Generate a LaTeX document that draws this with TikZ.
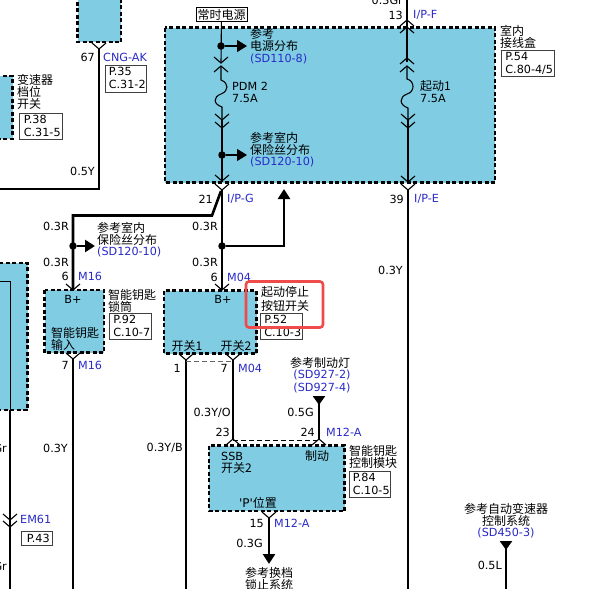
\documentclass[tikz,border=0pt]{standalone}
\usepackage{fontspec}
\setmainfont{Noto Sans CJK SC}
\newfontfamily\latf{DejaVu Sans}
\usetikzlibrary{arrows.meta}
\definecolor{boxc}{HTML}{7FCCE3}
\definecolor{linkc}{HTML}{2A2AC8}
\definecolor{redc}{HTML}{EE4B4B}
\newcommand{\tworow}[2]{\hspace{2.5pt}\raisebox{-4pt}[0pt][0pt]{\begin{tabular}{@{}l@{}}#1\\#2\end{tabular}}}
\tikzset{
 x=1pt,y=-1pt,
 module/.style={draw=black,fill=boxc,line width=2.2pt,dash pattern=on 4pt off 2.5pt},
 wire/.style={draw=black,line width=2.6pt},
 thinwire/.style={draw=black,line width=1.1pt},
 cjk/.style={inner sep=0pt,anchor=west,font=\fontsize{12}{12}\selectfont},
 cjkc/.style={cjk,anchor=center},
 lat/.style={inner sep=0pt,anchor=west,font=\latf\fontsize{11.2}{12}\selectfont},
 latr/.style={lat,anchor=east},
 latc/.style={lat,anchor=center},
 lnk/.style={lat,text=linkc},
 lnkc/.style={latc,text=linkc},
 refbox/.style={draw=black!75,line width=1pt,fill=white,inner sep=0pt,anchor=north west,align=left,font=\latf\fontsize{11.2}{12.8}\selectfont},
 dotn/.style={circle,fill=black,inner sep=0pt,minimum size=7.5pt},
 tip/.style={-{Triangle[length=10pt,width=12pt]}},
 revtip/.style={{Triangle[reversed,length=9pt,width=12pt]}-},
}
\newcommand{\conn}[2]{\draw[black,line width=1.1pt] (#1-7,#2-6) -- (#1,#2) -- (#1+7,#2-6);}
\newcommand{\connu}[2]{\draw[black,line width=1.1pt] (#1-7,#2+6) -- (#1,#2) -- (#1+7,#2+6);}
\begin{document}
\begin{tikzpicture}
\useasboundingbox (0,0) rectangle (600,589);
\fill[white] (0,0) rectangle (600,589);
% modules
\path[module] (77.5,-5) rectangle (121,42);
\path[module] (-5,76) rectangle (12.5,139);
\path[module] (165,27.5) rectangle (495,182.5);
\path[module] (-5,263) rectangle (27.5,410);
\path[module] (44.5,290) rectangle (104,352.5);
\path[module] (164,290.5) rectangle (256.5,353.5);
\path[module] (209,445.5) rectangle (344.5,511);
% fuse PDM 2
\node[draw=black,line width=.8pt,inner sep=1.5pt,fill=white,font=\fontsize{12}{12}\selectfont] (always) at (221.5,14.5) {常时电源};
\node[dotn] (d1) at (221,46) {};
\node[dotn] (d2) at (222,155) {};
\coordinate (d1e) at (247,46); \coordinate (d2e) at (247,155);
\draw[thinwire] (always) -- (221,63);
\conn{221}{63} \connu{221}{66}
\draw[thinwire] (221,66) -- (221,80) .. controls (229,83) and (229,91) .. (221,94) .. controls (213,97) and (213,104) .. (222,107) -- (222,120);
\conn{222}{120} \conn{222}{128}
\draw[thinwire] (222,120) -- (222,182);
\conn{222}{181}
\draw[thinwire,tip] (d1) -- (d1e);
\draw[thinwire,tip] (d2) -- (d2e);
% I/P-G wires
\node[dotn] (d3) at (222,246) {};
\node[dotn] (d4) at (73,246) {};
\coordinate (c1) at (222,190);
\coordinate (m04) at (222,290); \coordinate (m16) at (73,290);
\coordinate (tipup) at (284,189);
\coordinate (d4e) at (95,246);
\draw[wire] (c1) -- (m04);
\draw[wire] (221,191) -- (212,215.5) -- (73,215.5) -- (m16);
\draw[wire,tip] (d3) -- (284,246) -- (tipup);
\draw[wire,tip] (d4) -- (d4e);
\conn{222}{190}
\conn{73}{290}
\conn{222}{290}
% connector 67
\coordinate (c67) at (99,49);
\coordinate (c67e) at (-5,189);
\draw[wire] (c67) -- (99,189) -- (c67e);
\conn{99}{49}
% right wire
\coordinate (t13) at (407,-5); \coordinate (b39) at (408,594);
\draw[wire] (t13) -- (407,22);
\draw[thinwire] (407,22) -- (407,62);
\connu{407}{20} \connu{407}{27} \connu{407}{58} \connu{407}{66}
\draw[thinwire] (407,66) -- (407,79) .. controls (415,81) and (415,92) .. (407,94) .. controls (399,97) and (399,105) .. (408,108) -- (408,120);
\conn{408}{120} \conn{408}{128}
\draw[thinwire] (408,120) -- (408,182);
\conn{408}{182} \conn{408}{190}
\draw[wire] (b39) -- (408,189);
% left wire
\draw[black,line width=.8pt] (-2,281.5) -- (10,281.5) -- (10,410);
\draw[wire] (10,410) -- (10,594);
\conn{10}{520} \conn{10}{527}
% lower wires
\draw[wire] (73,359) -- (73,594);
\draw[wire] (186,360) -- (186,594);
\draw[wire] (233,360) -- (233,439);
\conn{73}{359}
\conn{186}{360}
\conn{233}{360}
\draw[black!60,line width=.9pt,dash pattern=on 5pt off 3pt] (186,361) -- (233,361);
\draw[black,line width=.9pt,dash pattern=on 5pt off 3pt] (233,440) -- (319,440);
\connu{233}{439}
\connu{319}{439}
\coordinate (bs) at (319,396);
\coordinate (bs2) at (319,440);
\draw[wire,revtip] (bs) -- (bs2);
\conn{269}{518}
\coordinate (es) at (269,564);
\coordinate (es2) at (269,518);
\draw[wire,tip] (es2) -- (es);
\coordinate (ds) at (506,541);
\coordinate (ds2) at (506,594);
\draw[wire,revtip] (ds) -- (ds2);
% labels
\node[latr] (l1) at (95,57) {67};
\node[lnk] (l2) at (103,57) {CNG-AK};
\node[refbox,minimum width=41pt,minimum height=27pt] (r35) at (105,64.5) {\tworow{P.35}{C.31-2}};
\node[cjk] (l3) at (17,80) {变速器};
\node[cjk] (l4) at (17,92) {档位};
\node[cjk] (l5) at (17,104) {开关};
\node[refbox,minimum width=43pt,minimum height=26pt] (r38) at (19,113) {\tworow{P.38}{C.31-5}};
\node[latr] (l6) at (95,171.5) {0.5Y};
\node[cjk] (l7) at (250,34) {参考};
\node[cjk] (l8) at (250,46) {电源分布};
\node[lnk] (l9) at (250,59) {(SD110-8)};
\node[lat] (l10) at (232,86) {PDM 2};
\node[lat] (l11) at (232,98) {7.5A};
\node[cjk] (l12) at (250,138) {参考室内};
\node[cjk] (l13) at (250,150) {保险丝分布};
\node[lnk] (l14) at (250,162) {(SD120-10)};
\node[latr] (l15) at (213,199) {21};
\node[lnk] (l16) at (227,199) {I/P-G};
\node[latr] (l17) at (69,226.5) {0.3R};
\node[latr] (l18) at (218,226.5) {0.3R};
\node[cjk] (l19) at (97,228) {参考室内};
\node[cjk] (l20) at (97,240) {保险丝分布};
\node[lnk] (l21) at (97,252) {(SD120-10)};
\node[latr] (l22) at (69,262) {0.3R};
\node[latr] (l23) at (218,262) {0.3R};
\node[latr] (l24) at (69,276.5) {6};
\node[lnk] (l25) at (78,276.5) {M16};
\node[latr] (l26) at (218,277) {6};
\node[lnk] (l27) at (227,277) {M04};
\node[latc] (l28) at (73,299.5) {B+};
\node[latc] (l29) at (223,299.5) {B+};
\node[cjk] (l30) at (108,295) {智能钥匙};
\node[cjk] (l31) at (108,307) {锁筒};
\node[refbox,minimum width=42pt,minimum height=26pt] (r92) at (109,313) {\tworow{P.92}{C.10-7}};
\node[cjk] (l32) at (51,333) {智能钥匙};
\node[cjk] (l33) at (51,345) {输入};
\node[latr] (l34) at (69,365) {7};
\node[lnk] (l35) at (78,365) {M16};
\node[cjk] (l36) at (261,292) {起动停止};
\node[cjk] (l37) at (261,306) {按钮开关};
\node[refbox,minimum width=42pt,minimum height=26pt] (r52) at (260,313) {\tworow{P.52}{C.10-3}};
\node[cjkc] (l38) at (187,346) {开关1};
\node[cjkc] (l39) at (236,346) {开关2};
\node[latr] (l40) at (181,368) {1};
\node[latr] (l41) at (228,368) {7};
\node[lnk] (l42) at (238,368) {M04};
\node[cjkc] (l43) at (320,363) {参考制动灯};
\node[lnkc] (l44) at (322,375) {(SD927-2)};
\node[lnkc] (l45) at (322,388) {(SD927-4)};
\node[latr] (l46) at (314,412.5) {0.5G};
\node[latr] (l47) at (231,412.5) {0.3Y/O};
\node[latr] (l48) at (230,432) {23};
\node[latr] (l49) at (315,432) {24};
\node[lnk] (l50) at (326,432) {M12-A};
\node[lat] (l51) at (221,456) {SSB};
\node[cjk] (l52) at (221,468) {开关2};
\node[cjkc] (l53) at (317,456) {制动};
\node[cjk] (l54) at (349,451) {智能钥匙};
\node[cjk] (l55) at (349,463) {控制模块};
\node[refbox,minimum width=41pt,minimum height=26pt] (r84) at (349,471) {\tworow{P.84}{C.10-5}};
\node[cjkc] (l56) at (258,503) {{\latf 'P'}位置};
\node[latr] (l57) at (264,523) {15};
\node[lnk] (l58) at (274,523) {M12-A};
\node[latr] (l59) at (263,543) {0.3G};
\node[cjkc] (l60) at (269,573) {参考换档};
\node[cjkc] (l61) at (269,585) {锁止系统};
\node[latr] (l62) at (68,448) {0.3Y};
\node[latr] (l63) at (183,448) {0.3Y/B};
\node[latr] (l64) at (7,448) {Gr};
\node[latr] (l65) at (7,566) {Gr};
\node[latr] (l66) at (403,270) {0.3Y};
\node[lnk] (l67) at (20,519.5) {EM61};
\node[refbox,minimum width=31pt,minimum height=14pt] (r43) at (21,530.5) {\hspace{2.5pt}P.43};
\node[latr] (l68) at (403,0) {0.3Gr};
\node[latr] (l69) at (403,15) {13};
\node[lnk] (l70) at (413,15) {I/P-F};
\node[cjk] (l71) at (500,31) {室内};
\node[cjk] (l72) at (500,43) {接线盒};
\node[refbox,minimum width=53pt,minimum height=26pt] (r54) at (501,50) {\tworow{P.54}{C.80-4/5}};
\node[cjk] (l73) at (420,86) {起动1};
\node[lat] (l74) at (420,98) {7.5A};
\node[latr] (l75) at (404,199) {39};
\node[lnk] (l76) at (414,199) {I/P-E};
\node[cjkc] (l77) at (506,509) {参考自动变速器};
\node[cjkc] (l78) at (506,521) {控制系统};
\node[lnkc] (l79) at (506,533) {(SD450-3)};
\node[latr] (l80) at (502,565) {0.5L};
% red highlight
\draw[redc,line width=2.6pt,rounded corners=3pt] (246,281.5) rectangle (323,327.5);
\end{tikzpicture}
\end{document}
